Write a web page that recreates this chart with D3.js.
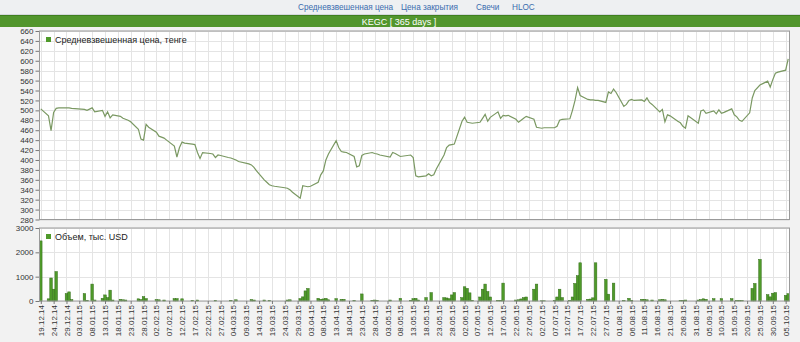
<!DOCTYPE html>
<html>
<head>
<meta charset="utf-8">
<script src="https://d3js.org/d3.v7.min.js"></script>
<style>
  body { margin: 0; background: #f2f2f2; }
  svg { display: block; font-family: "Liberation Sans", Arial, sans-serif; }
</style>
</head>
<body>
<svg id="chart" width="800" height="342"></svg>
<script>
var navLinks = ['Средневзвешенная цена', 'Цена закрытия', 'Свечи', 'HLOC']
var title = 'KEGC [ 365 days ]'
var priceLabel = 'Средневзвешенная цена, тенге'
var volumeLabel = 'Объем, тыс. USD'

var dateTicks = ['19.12.14', '24.12.14', '29.12.14', '03.01.15', '08.01.15', '13.01.15', '18.01.15', '23.01.15',
    '28.01.15', '02.02.15', '07.02.15', '12.02.15', '17.02.15', '22.02.15', '27.02.15', '04.03.15', '09.03.15',
    '14.03.15', '19.03.15', '24.03.15', '29.03.15', '03.04.15', '08.04.15', '13.04.15', '18.04.15', '23.04.15',
    '28.04.15', '03.05.15', '08.05.15', '13.05.15', '18.05.15', '23.05.15', '28.05.15', '02.06.15', '07.06.15',
    '12.06.15', '17.06.15', '22.06.15', '27.06.15', '02.07.15', '07.07.15', '12.07.15', '17.07.15', '22.07.15',
    '27.07.15', '01.08.15', '06.08.15', '11.08.15', '16.08.15', '21.08.15', '26.08.15', '31.08.15', '05.09.15',
    '10.09.15', '15.09.15', '20.09.15', '25.09.15', '30.09.15', '05.10.15']
var priceTicks = [280, 300, 320, 340, 360, 380, 400, 420, 440, 460, 480, 500, 520, 540, 560, 580, 600, 620, 640, 660]
var volumeTicks = [0, 1000, 2000, 3000]

// weighted average price, tenge
var price = [
    ['19.12.14', 503], ['22.12.14', 489], ['23.12.14', 459], ['24.12.14', 496], ['25.12.14', 504], ['26.12.14', 505],
    ['29.12.14', 505], ['30.12.14', 505], ['31.12.14', 504],
    ['05.01.15', 502], ['06.01.15', 500], ['08.01.15', 505], ['09.01.15', 497], ['12.01.15', 500], ['13.01.15', 488],
    ['14.01.15', 497], ['15.01.15', 485], ['16.01.15', 491], ['19.01.15', 488], ['20.01.15', 484], ['21.01.15', 482],
    ['22.01.15', 480], ['23.01.15', 477], ['26.01.15', 462], ['27.01.15', 442], ['28.01.15', 440], ['29.01.15', 472],
    ['30.01.15', 466],
    ['02.02.15', 456], ['03.02.15', 448], ['04.02.15', 446], ['05.02.15', 444], ['06.02.15', 440], ['09.02.15', 428],
    ['10.02.15', 406], ['11.02.15', 425], ['12.02.15', 436], ['13.02.15', 434], ['16.02.15', 432], ['17.02.15', 431],
    ['18.02.15', 415], ['19.02.15', 403], ['20.02.15', 415], ['23.02.15', 413], ['24.02.15', 412], ['25.02.15', 405],
    ['26.02.15', 410], ['27.02.15', 409],
    ['02.03.15', 405], ['03.03.15', 404], ['04.03.15', 402], ['05.03.15', 400], ['06.03.15', 397], ['10.03.15', 392],
    ['11.03.15', 390], ['12.03.15', 385], ['13.03.15', 378], ['16.03.15', 360], ['17.03.15', 355], ['18.03.15', 350],
    ['19.03.15', 348], ['20.03.15', 347], ['24.03.15', 344], ['25.03.15', 343], ['26.03.15', 340], ['27.03.15', 335],
    ['30.03.15', 323], ['31.03.15', 348],
    ['01.04.15', 347], ['02.04.15', 346], ['03.04.15', 347], ['06.04.15', 355], ['07.04.15', 370], ['08.04.15', 378],
    ['09.04.15', 400], ['10.04.15', 412], ['13.04.15', 439], ['14.04.15', 425], ['15.04.15', 417], ['16.04.15', 416],
    ['17.04.15', 415], ['20.04.15', 407], ['21.04.15', 386], ['22.04.15', 388], ['23.04.15', 409], ['24.04.15', 412],
    ['27.04.15', 415], ['28.04.15', 413], ['29.04.15', 412], ['30.04.15', 410],
    ['04.05.15', 406], ['05.05.15', 415], ['06.05.15', 413], ['08.05.15', 407], ['12.05.15', 410], ['13.05.15', 405],
    ['14.05.15', 368], ['15.05.15', 366], ['18.05.15', 368], ['19.05.15', 372], ['20.05.15', 368], ['21.05.15', 370],
    ['22.05.15', 382], ['25.05.15', 410], ['26.05.15', 425], ['27.05.15', 430], ['28.05.15', 431], ['29.05.15', 432],
    ['01.06.15', 478], ['02.06.15', 486], ['03.06.15', 476], ['04.06.15', 475], ['05.06.15', 474], ['08.06.15', 476],
    ['09.06.15', 484], ['10.06.15', 492], ['11.06.15', 478], ['12.06.15', 486], ['15.06.15', 497], ['16.06.15', 484],
    ['17.06.15', 490], ['18.06.15', 489], ['19.06.15', 490], ['22.06.15', 482], ['23.06.15', 476], ['24.06.15', 480],
    ['25.06.15', 484], ['26.06.15', 488], ['29.06.15', 482], ['30.06.15', 466],
    ['01.07.15', 465], ['02.07.15', 464], ['03.07.15', 465], ['07.07.15', 465], ['08.07.15', 468], ['09.07.15', 480],
    ['10.07.15', 482], ['13.07.15', 483], ['14.07.15', 500], ['15.07.15', 520], ['16.07.15', 546], ['17.07.15', 530],
    ['20.07.15', 522], ['21.07.15', 521], ['22.07.15', 521], ['23.07.15', 520], ['24.07.15', 520], ['27.07.15', 516],
    ['28.07.15', 537], ['29.07.15', 534], ['30.07.15', 543], ['31.07.15', 536],
    ['03.08.15', 508], ['04.08.15', 512], ['05.08.15', 520], ['06.08.15', 522], ['07.08.15', 520], ['10.08.15', 521],
    ['11.08.15', 518], ['12.08.15', 525], ['13.08.15', 516], ['14.08.15', 512], ['17.08.15', 497], ['18.08.15', 502],
    ['19.08.15', 477], ['20.08.15', 491], ['21.08.15', 489], ['24.08.15', 478], ['25.08.15', 475], ['26.08.15', 468],
    ['27.08.15', 464], ['28.08.15', 489],
    ['01.09.15', 474], ['02.09.15', 499], ['03.09.15', 501], ['04.09.15', 494], ['07.09.15', 499], ['08.09.15', 493],
    ['09.09.15', 501], ['10.09.15', 494], ['11.09.15', 496], ['14.09.15', 503], ['15.09.15', 491], ['16.09.15', 487],
    ['17.09.15', 480], ['18.09.15', 478], ['21.09.15', 495], ['22.09.15', 525], ['23.09.15', 540], ['25.09.15', 551],
    ['28.09.15', 559], ['29.09.15', 547], ['30.09.15', 562],
    ['01.10.15', 575], ['02.10.15', 577], ['05.10.15', 581], ['06.10.15', 604]
]

// volume, thousand USD
var volume = [
    ['19.12.14', 2470], ['22.12.14', 90], ['23.12.14', 945], ['24.12.14', 485], ['25.12.14', 1210], ['29.12.14', 305],
    ['30.12.14', 375], ['31.12.14', 60],
    ['05.01.15', 305], ['06.01.15', 30], ['08.01.15', 695], ['09.01.15', 40], ['12.01.15', 110], ['13.01.15', 250],
    ['14.01.15', 140], ['15.01.15', 445], ['16.01.15', 40], ['19.01.15', 70], ['20.01.15', 50], ['21.01.15', 40],
    ['26.01.15', 90], ['27.01.15', 60], ['28.01.15', 180], ['29.01.15', 100],
    ['02.02.15', 60], ['03.02.15', 50], ['05.02.15', 40], ['09.02.15', 100], ['10.02.15', 100], ['12.02.15', 90],
    ['16.02.15', 30], ['18.02.15', 40], ['25.02.15', 20],
    ['03.03.15', 30], ['05.03.15', 50], ['11.03.15', 60], ['12.03.15', 40], ['16.03.15', 40], ['18.03.15', 20],
    ['25.03.15', 40], ['26.03.15', 50], ['30.03.15', 100], ['31.03.15', 170],
    ['01.04.15', 415], ['02.04.15', 515], ['06.04.15', 110], ['07.04.15', 70], ['08.04.15', 85], ['09.04.15', 110],
    ['10.04.15', 50], ['13.04.15', 95], ['15.04.15', 70], ['16.04.15', 70], ['20.04.15', 20], ['23.04.15', 290],
    ['27.04.15', 30], ['28.04.15', 40], ['29.04.15', 20],
    ['04.05.15', 40], ['08.05.15', 110], ['12.05.15', 30], ['13.05.15', 95], ['14.05.15', 110], ['15.05.15', 40],
    ['18.05.15', 140], ['20.05.15', 345], ['25.05.15', 140], ['26.05.15', 125], ['27.05.15', 95], ['28.05.15', 250],
    ['29.05.15', 345],
    ['01.06.15', 140], ['02.06.15', 585], ['03.06.15', 520], ['04.06.15', 335], ['05.06.15', 30], ['08.06.15', 165],
    ['09.06.15', 485], ['10.06.15', 695], ['11.06.15', 390], ['12.06.15', 165], ['15.06.15', 30], ['16.06.15', 30],
    ['17.06.15', 735], ['22.06.15', 40], ['23.06.15', 50], ['24.06.15', 85], ['25.06.15', 140], ['26.06.15', 165],
    ['29.06.15', 485], ['30.06.15', 695],
    ['02.07.15', 10], ['03.07.15', 10], ['07.07.15', 20], ['08.07.15', 165], ['09.07.15', 485], ['10.07.15', 140],
    ['13.07.15', 20], ['14.07.15', 165], ['15.07.15', 720], ['16.07.15', 1040], ['17.07.15', 1570], ['20.07.15', 70],
    ['21.07.15', 80], ['22.07.15', 130], ['23.07.15', 1570], ['27.07.15', 890], ['28.07.15', 280], ['30.07.15', 735],
    ['03.08.15', 20], ['05.08.15', 110], ['06.08.15', 30], ['10.08.15', 70], ['11.08.15', 70], ['12.08.15', 50],
    ['14.08.15', 40], ['17.08.15', 50], ['18.08.15', 70], ['19.08.15', 50], ['25.08.15', 20], ['26.08.15', 30],
    ['27.08.15', 40],
    ['01.09.15', 40], ['02.09.15', 60], ['03.09.15', 90], ['04.09.15', 70], ['07.09.15', 95], ['10.09.15', 95],
    ['14.09.15', 95], ['16.09.15', 20], ['17.09.15', 20], ['18.09.15', 15], ['22.09.15', 515], ['23.09.15', 720],
    ['25.09.15', 1710], ['28.09.15', 260], ['29.09.15', 170], ['30.09.15', 320],
    ['01.10.15', 345], ['05.10.15', 230], ['06.10.15', 300]
]

var parseDate = d3.timeParse('%d.%m.%y')
var svg = d3.select('#chart')

var left = 39.5, right = 789.5
var priceTop = 31, priceBottom = 219.5
var volTop = 228, volBottom = 301

var firstDay = parseDate(price[0][0])
var lastDay = parseDate(price[price.length - 1][0])
var x = d3.scaleTime()
    .domain([d3.timeHour.offset(firstDay, -12), d3.timeHour.offset(lastDay, 12)])
    .range([left, right])

var yPrice = d3.scaleLinear().domain([280, 660]).range([priceBottom, priceTop])
var yVol = d3.scaleLinear().domain([0, 3000]).range([volBottom, volTop])

// header: links and green title bar
svg.append('rect').attr('width', 800).attr('height', 14).attr('fill', '#eef0f2')
svg.append('line').attr('x1', 0).attr('x2', 800).attr('y1', 14.5).attr('y2', 14.5).attr('stroke', '#d4d8dc')
var navStart = [298, 401, 476, 512]
navLinks.forEach(function(t, i) {
    svg.append('text')
        .attr('x', navStart[i]).attr('y', 9.5)
        .attr('font-size', 8.2).attr('fill', '#3a6cae')
        .text(t)
})
svg.append('rect').attr('x', 0).attr('y', 15).attr('width', 800).attr('height', 12).attr('fill', '#52962d')
svg.append('line').attr('x1', 0).attr('x2', 800).attr('y1', 15.5).attr('y2', 15.5).attr('stroke', '#3f7f1f')
svg.append('text')
    .attr('x', 399).attr('y', 24.5)
    .attr('text-anchor', 'middle')
    .attr('font-size', 9).attr('fill', '#ffffff')
    .text(title)

function panel(top, bottom, y, ticks) {
    svg.append('rect')
        .attr('x', left).attr('y', top)
        .attr('width', right - left).attr('height', bottom - top)
        .attr('fill', '#ffffff')

    var g = svg.append('g').attr('class', 'grid')
    g.selectAll('line.v')
        .data(dateTicks)
        .enter().append('line')
        .attr('x1', function(d) { return Math.round(x(parseDate(d))) + 0.5 })
        .attr('x2', function(d) { return Math.round(x(parseDate(d))) + 0.5 })
        .attr('y1', top).attr('y2', bottom)
        .attr('stroke', '#e4e4e4')
    g.selectAll('line.h')
        .data(ticks)
        .enter().append('line')
        .attr('x1', left).attr('x2', right)
        .attr('y1', function(d) { return Math.round(y(d)) + 0.5 })
        .attr('y2', function(d) { return Math.round(y(d)) + 0.5 })
        .attr('stroke', '#e4e4e4')

    var axis = svg.append('g')
        .attr('transform', 'translate(' + left + ',0)')
        .call(d3.axisLeft(y).tickValues(ticks).tickSize(4).tickPadding(2).tickFormat(d3.format('d')))
    axis.select('.domain').remove()
    axis.selectAll('line').attr('stroke', '#777')
    axis.selectAll('text').attr('font-size', 8).attr('fill', '#333')
        .attr('font-family', '"Liberation Sans", Arial, sans-serif')
}

panel(priceTop, priceBottom, yPrice, priceTicks)
panel(volTop, volBottom, yVol, volumeTicks)

// price line
var line = d3.line()
    .x(function(d) { return x(parseDate(d[0])) })
    .y(function(d) { return yPrice(d[1]) })
svg.append('path')
    .datum(price)
    .attr('d', line)
    .attr('fill', 'none')
    .attr('stroke', '#7a9862')
    .attr('stroke-width', 1.2)

// volume bars
var dayW = x(d3.timeDay.offset(firstDay, 1)) - x(firstDay)
svg.selectAll('rect.bar')
    .data(volume)
    .enter().append('rect')
    .attr('class', 'bar')
    .attr('x', function(d) { return x(parseDate(d[0])) - dayW / 2 })
    .attr('width', dayW)
    .attr('y', function(d) { return yVol(d[1]) })
    .attr('height', function(d) { return volBottom - yVol(d[1]) })
    .attr('fill', '#4f9a2a')
    .attr('stroke', '#356f1a')
    .attr('stroke-width', 0.5)

// frames
;[[priceTop, priceBottom], [volTop, volBottom]].forEach(function(p) {
    svg.append('rect')
        .attr('x', left).attr('y', p[0])
        .attr('width', right - left).attr('height', p[1] - p[0])
        .attr('fill', 'none').attr('stroke', '#9a9a9a')
})

// legends
function legend(yPos, label) {
    svg.append('rect').attr('x', 46).attr('y', yPos - 6).attr('width', 5).attr('height', 5).attr('fill', '#4f9a2a')
    svg.append('text').attr('x', 55).attr('y', yPos).attr('font-size', 9).attr('fill', '#222').text(label)
}
legend(43, priceLabel)
legend(240, volumeLabel)

// bottom date axis
var xAxis = svg.append('g')
    .attr('transform', 'translate(0,' + volBottom + ')')
    .call(d3.axisBottom(x).tickValues(dateTicks.map(parseDate)).tickSize(3)
        .tickFormat(d3.timeFormat('%d.%m.%y')))
xAxis.select('.domain').remove()
xAxis.selectAll('line').attr('stroke', '#777')
xAxis.selectAll('text')
    .attr('font-size', 8).attr('fill', '#333')
    .attr('font-family', '"Liberation Sans", Arial, sans-serif')
    .attr('text-anchor', 'end')
    .attr('transform', 'rotate(-90)')
    .attr('x', -4).attr('y', 0).attr('dy', '0.32em')
</script>
</body>
</html>
